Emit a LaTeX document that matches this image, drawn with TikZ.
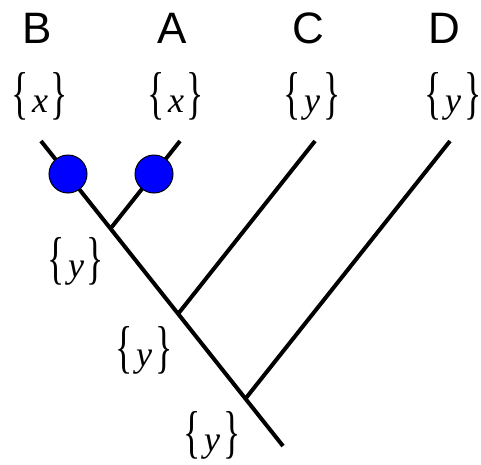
\documentclass[tikz,border=0pt]{standalone}
\usepackage{fontspec}
\setmainfont{Liberation Serif}
\newfontfamily\leaffont{Liberation Sans}
\usepackage{graphicx}
\usetikzlibrary{positioning}

\newcommand{\bset}[1]{\scalebox{1}[1.6]{\{}\hspace{3pt}\textit{#1}\hspace{3pt}\scalebox{1}[1.6]{\}}}

\begin{document}
\begin{tikzpicture}[x=1pt, y=-1pt, line width=4pt,
  leaf/.style={font=\leaffont\fontsize{44}{44}\selectfont, inner sep=0, anchor=base},
  set/.style={font=\fontsize{36}{36}\selectfont, inner sep=0, anchor=base},
  dot/.style={circle, draw, line width=1pt, fill=blue, minimum size=38pt, inner sep=0}]
  \useasboundingbox (0,0) rectangle (481,464);

  % leaf names
  \node[leaf] (B) at (37,43) {B};
  \node[leaf] (A) at (172,43) {A};
  \node[leaf] (C) at (308,43) {C};
  \node[leaf] (D) at (444,43) {D};

  % sets
  \node[set] (sB) at (40,112) {\bset{x}};
  \node[set] (sA) at (176,112) {\bset{x}};
  \node[set] (sC) at (312,112) {\bset{y}};
  \node[set] (sD) at (453,112) {\bset{y}};
  \node[set] (s1) at (76,277) {\bset{y}};
  \node[set] (s2) at (144,366) {\bset{y}};
  \node[set] (s3) at (212,451) {\bset{y}};

  % tree
  \coordinate (tB) at (41,141);
  \coordinate (tA) at (180,141);
  \coordinate (tC) at (315,141);
  \coordinate (tD) at (450,141);
  \coordinate (j1) at (111,228);
  \coordinate (j2) at (178,314);
  \coordinate (j3) at (246,398);
  \coordinate (root) at (283,446);

  \draw (tB) -- (root);
  \draw (tA) -- (j1);
  \draw (tC) -- (j2);
  \draw (tD) -- (j3);

  \node[dot] (dB) at (68,174) {};
  \node[dot] (dA) at (154,174) {};
\end{tikzpicture}
\end{document}
